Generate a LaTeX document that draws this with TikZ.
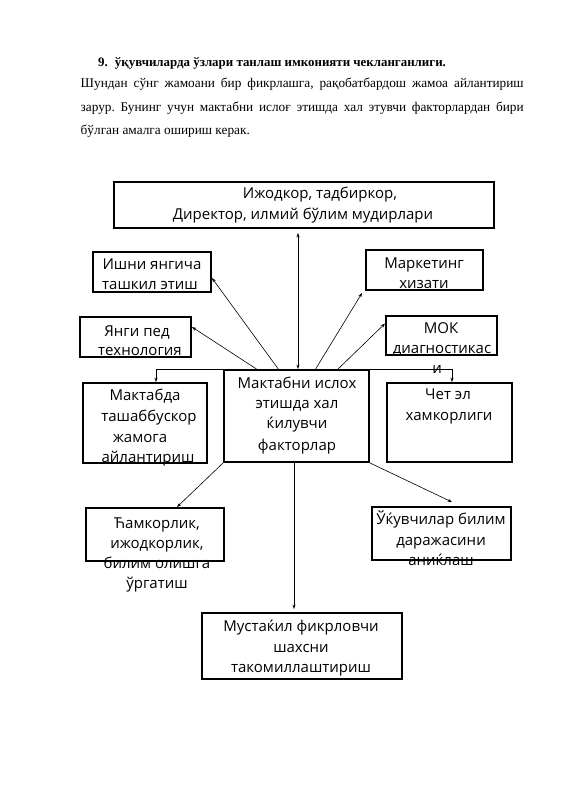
\documentclass[tikz,border=0pt]{standalone}
\usepackage{fontspec}
\setmainfont{Liberation Serif}
\newfontfamily\diagfont{Open Sans}
\usetikzlibrary{arrows.meta,calc}
\frenchspacing
\tikzset{
  box/.style={draw=black,line width=1.9pt,inner sep=0pt,fill=none},
  txt/.style={font=\diagfont\fontsize{15}{17}\selectfont,inner sep=0pt,anchor=base},
  ptxt/.style={font=\fontsize{13.3}{16}\selectfont,inner sep=0pt,anchor=base west},
  conn/.style={line width=0.6pt,-{Stealth[length=4.5pt,width=3.2pt]}},
  dconn/.style={line width=0.6pt,{Stealth[length=4.5pt,width=3.2pt]}-{Stealth[length=4.5pt,width=3.2pt]}}
}
\newcommand\tl[4]{\node[txt] (#1) at (#2,#3) {#4};}
\begin{document}
\begin{tikzpicture}[x=1pt,y=-1pt]
\useasboundingbox[fill=white] (0,0) rectangle (565,800);
% heading and paragraph
\node[ptxt,font=\bfseries\fontsize{12.9}{16}\selectfont] (head) at (98,66.5) {9.\hspace{0.55em}ўқувчиларда ўзлари танлаш имконияти чекланганлиги.};
\node[ptxt] (p1) at (80.5,88) {\makebox[443pt][s]{Шундан сўнг жамоани бир фикрлашга, рақобатбардош жамоа айлантириш}};
\node[ptxt] (p2) at (80.5,111.5) {\makebox[443pt][s]{зарур. Бунинг учун мактабни ислоғ этишда хал этувчи факторлардан бири}};
\node[ptxt] (p3) at (80.5,134.5) {бўлган амалга ошириш керак.};
% boxes
\node[box,minimum width=380pt,minimum height=46pt] (top) at (304,205) {};
\node[box,minimum width=118pt,minimum height=40pt] (ishni) at (152,272) {};
\node[box,minimum width=117pt,minimum height=40pt] (market) at (424.5,270) {};
\node[box,minimum width=111pt,minimum height=40pt] (yangi) at (135.5,337) {};
\node[box,minimum width=111pt,minimum height=39pt] (mok) at (441.5,335.5) {};
\node[box,minimum width=145pt,minimum height=92pt] (cb) at (296.5,416) {};
\node[box,minimum width=124pt,minimum height=80pt] (mak) at (145,423) {};
\node[box,minimum width=125pt,minimum height=79pt] (chet) at (449.5,422.5) {};
\node[box,minimum width=138pt,minimum height=53pt] (ham) at (155,534.5) {};
\node[box,minimum width=139pt,minimum height=53pt] (ukuv) at (441.5,533.5) {};
\node[box,minimum width=200pt,minimum height=66pt] (must) at (302,646) {};
% texts
\tl{t1a}{320}{198}{Ижодкор, тадбиркор,}
\tl{t1b}{303}{219}{Директор, илмий бўлим мудирлари}
\tl{t2a}{152}{269}{Ишни янгича}
\tl{t2b}{150}{289}{ташкил этиш}
\tl{t3a}{424}{268}{Маркетинг}
\tl{t3b}{424}{288}{хизати}
\tl{t4a}{137}{336}{Янги пед}
\tl{t4b}{140}{355}{технология}
\tl{t5a}{441}{333}{МОК}
\tl{t5b}{442}{353}{диагностикас}
\tl{t5c}{437}{373}{и}
\tl{t6a}{297}{388}{Мактабни ислох}
\tl{t6b}{297}{408}{этишда хал}
\tl{t6c}{297}{428}{ќилувчи}
\tl{t6d}{297}{450}{факторлар}
\tl{t7a}{145}{400}{Мактабда}
\tl{t7b}{149}{421}{ташаббускор}
\tl{t7c}{140}{442}{жамога}
\tl{t7d}{148}{462}{айлантириш}
\tl{t8a}{448}{399}{Чет эл}
\tl{t8b}{449}{420}{хамкорлиги}
\tl{t9a}{157}{528}{Ћамкорлик,}
\tl{t9b}{157}{548}{ижодкорлик,}
\tl{t9c}{157}{568}{билим олишга}
\tl{t9d}{157}{588}{ўргатиш}
\tl{t10a}{441}{524}{Ўќувчилар билим}
\tl{t10b}{441}{545}{даражасини}
\tl{t10c}{441}{565}{аниќлаш}
\tl{t11a}{301}{631}{Мустаќил фикрловчи}
\tl{t11b}{301}{652}{шахсни}
\tl{t11c}{301}{672}{такомиллаштириш}
% connectors
\coordinate (v1) at (298,233);
\draw[dconn] (v1) -- (v1 |- cb.north);
\coordinate (c1) at (258,370);
\coordinate (c2) at (279,370);
\coordinate (c3) at (315,370);
\coordinate (c4) at (337,370);
\draw[conn] (c1) -- ([yshift=10pt]yangi.east);
\draw[conn] (c2) -- ([yshift=-6pt]ishni.east);
\draw[conn] (c3) -- ([xshift=-3pt,yshift=-2pt]market.south west);
\draw[conn] (c4) -- ([yshift=12pt]mok.west);
\draw[conn] (cb.north west) -| ([xshift=11pt]mak.north);
\draw[conn] (cb.north east) -| ([xshift=2.5pt]chet.north);
\draw[conn] (cb.south west) -- ([xshift=22pt]ham.north);
\draw[conn] (cb.south east) -- ([xshift=10.5pt,yshift=4pt]ukuv.north);
\draw[conn] ([xshift=-2.5pt]cb.south) -- ([xshift=-8pt,yshift=3pt]must.north);
\end{tikzpicture}
\end{document}
